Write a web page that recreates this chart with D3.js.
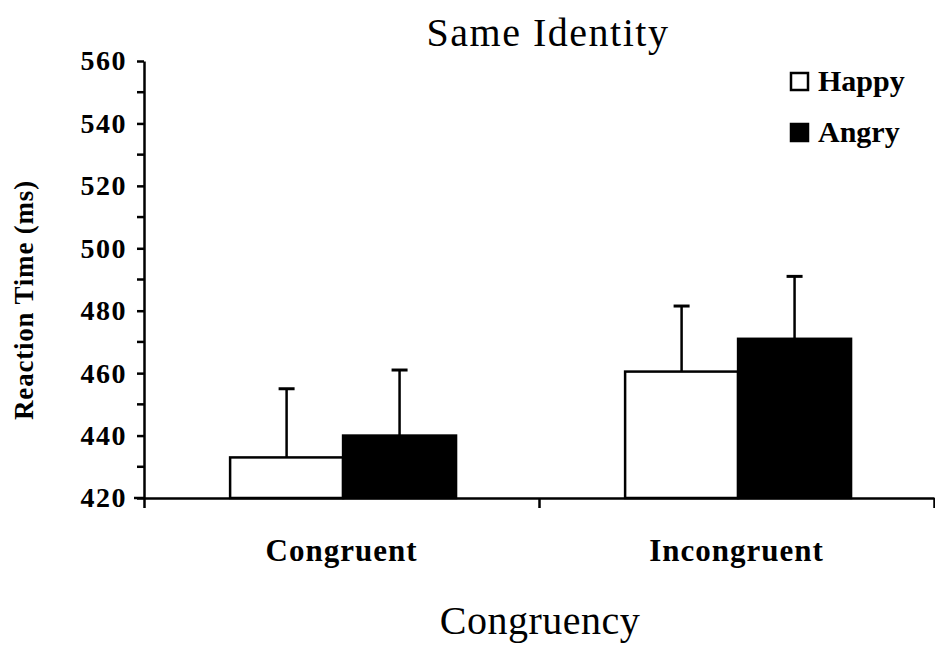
<!DOCTYPE html>
<html>
<head>
<title>Same Identity</title>
<script type="text/javascript" src="https://d3js.org/d3.v7.min.js"></script>
<style>
  body { margin: 0; background: #fff; }
  text { font-family: "Liberation Serif", "Times New Roman", serif; fill: #000; }
</style>
</head>
<body>
<svg class="chart"></svg>

<script type="text/javascript">

    // data
    const categories = ["Congruent", "Incongruent"];
    const series = ["Happy", "Angry"];
    const happyMeans = [433, 460.5];
    const angryMeans = [440, 471];
    const happyErr = [22, 21];
    const angryErr = [21, 20];
    const yTicks = [420, 440, 460, 480, 500, 520, 540, 560];
    const yMinor = [430, 450, 470, 490, 510, 530, 550];

    const fills = {Happy: "#fff", Angry: "#000"};

    const W = 935, H = 646;
    const margin = {top: 61, right: 1, bottom: 148, left: 144};

    const svg = d3.select(".chart")
        .attr("width", W)
        .attr("height", H);

    const xScale = d3.scaleBand()
        .domain(categories)
        .range([margin.left, W - margin.right])
        .padding(0);

    const xSub = d3.scaleBand()
        .domain(series)
        .range([xScale.bandwidth() * 0.218, xScale.bandwidth() * 0.79]);

    const yScale = d3.scaleLinear()
        .domain([420, 560])
        .range([H - margin.bottom, margin.top]);

    // rows for the bars
    const rows = [];
    categories.forEach((c, i) => {
        rows.push({cat: c, s: "Happy", v: happyMeans[i], e: happyErr[i]});
        rows.push({cat: c, s: "Angry", v: angryMeans[i], e: angryErr[i]});
    });

    // error bars (drawn first so the bar outline sits on top)
    const err = svg.append("g").attr("class", "errors")
        .attr("stroke", "#000").attr("stroke-width", 2.5);

    err.selectAll("line.stem")
        .data(rows)
        .join("line")
        .attr("class", "stem")
        .attr("x1", d => xScale(d.cat) + xSub(d.s) + xSub.bandwidth() / 2)
        .attr("x2", d => xScale(d.cat) + xSub(d.s) + xSub.bandwidth() / 2)
        .attr("y1", d => yScale(d.v))
        .attr("y2", d => yScale(d.v + d.e));

    err.selectAll("line.cap")
        .data(rows)
        .join("line")
        .attr("class", "cap")
        .attr("stroke-width", 3)
        .attr("x1", d => xScale(d.cat) + xSub(d.s) + xSub.bandwidth() / 2 - 8)
        .attr("x2", d => xScale(d.cat) + xSub(d.s) + xSub.bandwidth() / 2 + 8)
        .attr("y1", d => yScale(d.v + d.e))
        .attr("y2", d => yScale(d.v + d.e));

    svg.append("g").attr("class", "bars")
        .selectAll("rect")
        .data(rows)
        .join("rect")
        .attr("x", d => xScale(d.cat) + xSub(d.s))
        .attr("y", d => yScale(d.v))
        .attr("width", xSub.bandwidth())
        .attr("height", d => yScale(420) - yScale(d.v))
        .attr("fill", d => fills[d.s])
        .attr("stroke", "#000")
        .attr("stroke-width", 2.5);

    // y axis
    const yAxis = d3.axisLeft(yScale)
        .tickValues(yTicks)
        .tickSize(7)
        .tickSizeOuter(0)
        .tickPadding(10)
        .tickFormat(d3.format("d"));

    const gy = svg.append("g")
        .attr("class", "y-axis")
        .attr("transform", "translate(" + margin.left + ",0)")
        .call(yAxis);

    gy.selectAll(".tick text")
        .style("font-size", "28px")
        .style("font-weight", "bold")
        .style("letter-spacing", "1.5px");

    gy.selectAll(".minor")
        .data(yMinor)
        .join("line")
        .attr("class", "minor")
        .attr("stroke", "#000")
        .attr("x1", -7).attr("x2", 0)
        .attr("y1", d => yScale(d)).attr("y2", d => yScale(d));

    gy.selectAll("path, line").attr("stroke-width", 2.5);

    // x axis: ticks on the band edges, labels in the middle
    const xEdge = d3.scaleLinear()
        .domain([0, categories.length])
        .range(xScale.range());

    const gx = svg.append("g")
        .attr("class", "x-axis")
        .attr("transform", "translate(0," + yScale(420) + ")")
        .call(d3.axisBottom(xEdge)
            .tickValues(d3.range(categories.length + 1))
            .tickSize(10)
            .tickSizeOuter(0)
            .tickFormat(""));

    gx.append("line")
        .attr("stroke", "#000")
        .attr("x1", margin.left - 10).attr("x2", margin.left);

    gx.selectAll("path, line").attr("stroke-width", 2.5);

    gx.selectAll(".cat")
        .data(categories)
        .join("text")
        .attr("class", "cat")
        .attr("x", d => xScale(d) + xScale.bandwidth() / 2)
        .attr("y", 63)
        .attr("text-anchor", "middle")
        .style("font-size", "31px")
        .style("font-weight", "bold")
        .style("letter-spacing", "1px")
        .text(d => d);

    // titles
    svg.append("text")
        .attr("x", 548)
        .attr("y", 46)
        .attr("text-anchor", "middle")
        .style("font-size", "40px")
        .style("letter-spacing", "1.5px")
        .text("Same Identity");

    svg.append("text")
        .attr("x", 540)
        .attr("y", 634)
        .attr("text-anchor", "middle")
        .style("font-size", "40px")
        .style("letter-spacing", "0.5px")
        .text("Congruency");

    svg.append("text")
        .attr("transform", "translate(33,300) rotate(-90)")
        .attr("text-anchor", "middle")
        .style("font-size", "27px")
        .style("font-weight", "bold")
        .style("letter-spacing", "0.8px")
        .text("Reaction Time (ms)");

    // legend
    const legend = svg.append("g").attr("class", "legend")
        .attr("transform", "translate(791,73)");

    const li = legend.selectAll("g")
        .data(series)
        .join("g")
        .attr("transform", (d, i) => "translate(0," + i * 51 + ")");

    li.append("rect")
        .attr("width", 17).attr("height", 17)
        .attr("fill", d => fills[d])
        .attr("stroke", "#000")
        .attr("stroke-width", 2.5);

    li.append("text")
        .attr("x", 27)
        .attr("y", 18)
        .style("font-size", "30px")
        .style("font-weight", "bold")
        .text(d => d);

</script>
</body>
</html>
